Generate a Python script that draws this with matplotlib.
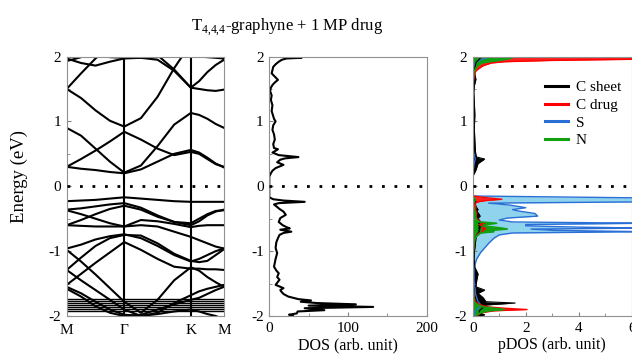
import numpy as np
import matplotlib
matplotlib.use("Agg")
import matplotlib.pyplot as plt
from matplotlib.ticker import MultipleLocator

plt.rcParams['font.family'] = ['Liberation Serif', 'DejaVu Serif']
plt.rcParams['mathtext.fontset'] = 'custom'
plt.rcParams['mathtext.rm'] = 'Liberation Serif'

# ---- band structure: energies at points along M - G - K - M ----
kpath = [0.0, 0.144, 0.289, 0.433, 0.577, 0.744, 0.911, 1.077, 1.244, 1.327, 1.410, 1.494, 1.577]
k_ticks = [0.0, 0.577, 1.244, 1.577]
k_labels = ['M', 'Γ', 'K', 'M']

bands = [
    # conduction
    [0.30, 0.27, 0.25, 0.22, 0.20, 0.26, 0.38, 0.50, 0.56, 0.52, 0.44, 0.35, 0.29],
    [0.30, 0.42, 0.55, 0.69, 0.84, 0.72, 0.58, 0.48, 0.53, 0.50, 0.42, 0.34, 0.30],
    [0.90, 0.78, 0.58, 0.38, 0.21, 0.32, 0.62, 0.95, 1.13, 1.10, 1.04, 0.96, 0.90],
    [1.50, 1.36, 1.17, 1.01, 0.92, 1.05, 1.38, 1.82, 2.20, 2.25, 2.25, 2.25, 2.25],
    [2.30, 2.20, 2.05, 1.99, 1.98, 1.98, 1.95, 1.78, 1.52, 1.62, 1.76, 1.87, 1.95],
    [2.40, 2.40, 2.30, 2.25, 2.20, 2.10, 2.02, 1.80, 1.52, 1.50, 1.48, 1.47, 1.49],
    [1.50, 1.74, 1.97, 2.15, 2.30, 2.40, 2.40, 2.30, 2.02, 2.00, 1.99, 1.98, 1.97],
    [1.93, 1.99, 2.08, 2.15, 2.20, 2.25, 2.30, 2.30, 2.30, 2.20, 2.10, 2.02, 1.96],
    [1.97, 1.90, 1.86, 1.92, 1.97, 1.98, 1.99, 2.05, 2.20, 2.30, 2.30, 2.30, 2.30],
    # valence
    [-0.23, -0.22, -0.21, -0.19, -0.17, -0.19, -0.21, -0.23, -0.24, -0.24, -0.24, -0.24, -0.24],
    [-0.36, -0.34, -0.31, -0.28, -0.26, -0.33, -0.45, -0.55, -0.60, -0.54, -0.45, -0.39, -0.36],
    [-0.60, -0.52, -0.43, -0.35, -0.30, -0.36, -0.47, -0.55, -0.57, -0.50, -0.43, -0.38, -0.37],
    [-0.37, -0.43, -0.50, -0.57, -0.62, -0.52, -0.54, -0.58, -0.63, -0.61, -0.60, -0.60, -0.60],
    [-0.60, -0.61, -0.62, -0.62, -0.62, -0.60, -0.62, -0.70, -0.78, -0.83, -0.88, -0.93, -0.96],
    [-0.96, -0.90, -0.82, -0.77, -0.74, -0.80, -0.92, -1.06, -1.16, -1.12, -1.06, -1.00, -0.96],
    [-1.29, -1.10, -0.92, -0.80, -0.75, -0.76, -0.88, -1.04, -1.15, -1.17, -1.15, -1.06, -0.97],
    [-1.52, -1.35, -1.18, -1.02, -0.86, -0.98, -1.12, -1.24, -1.27, -1.27, -1.28, -1.28, -1.29],
    [-0.98, -1.16, -1.36, -1.57, -1.78, -1.95, -1.75, -1.45, -1.25, -1.30, -1.40, -1.48, -1.55],
    [-1.29, -1.45, -1.60, -1.75, -1.90, -2.00, -1.95, -1.80, -1.68, -1.62, -1.58, -1.55, -1.52],
    [-1.55, -1.65, -1.78, -1.90, -1.98, -2.00, -1.97, -1.93, -1.90, -1.93, -1.97, -2.00, -2.05],
    [-1.58, -1.70, -1.85, -1.95, -2.00, -1.98, -1.90, -1.82, -1.75, -1.72, -1.66, -1.60, -1.55],
]
flat_levels = [-1.74, -1.77, -1.80, -1.83, -1.86, -1.89, -1.93]

# ---- total DOS ----
dos_e = [2.00, 1.98, 1.97, 1.95, 1.92, 1.88, 1.84, 1.79, 1.74, 1.69, 1.64, 1.60, 1.56, 1.52,
         1.47, 1.40, 1.33, 1.25, 1.16, 1.08, 1.04, 1.00, 0.94, 0.87, 0.80, 0.72, 0.65, 0.59,
         0.57, 0.54, 0.52, 0.48, 0.45, 0.43, 0.41, 0.37, 0.33, 0.30, 0.28, 0.24, 0.20, 0.15,
         0.10, -0.17, -0.20, -0.22, -0.24, -0.26, -0.28, -0.31, -0.35, -0.39, -0.44, -0.49,
         -0.55, -0.60, -0.63, -0.65, -0.67, -0.70, -0.72, -0.75, -0.80, -0.86, -0.95, -1.03,
         -1.12, -1.24, -1.30, -1.34, -1.40, -1.44, -1.52, -1.57, -1.60, -1.62, -1.66, -1.70,
         -1.74, -1.76, -1.78, -1.80, -1.82, -1.84, -1.86, -1.88, -1.91, -1.93, -1.96, -1.98, -2.00]
dos = [30, 41, 22, 16, 12, 8, 5, 4, 3, 7, 11, 7, 4, 2,
       1, 3, 2, 4, 3, 5, 6, 8, 5, 4, 6, 7, 5, 6,
       11, 7, 4, 12, 37, 20, 14, 10, 18, 12, 8, 4, 2, 0,
       0, 0, 5, 18, 45, 12, 6, 9, 13, 18, 21, 14,
       12, 17, 22, 26, 14, 28, 18, 13, 11, 9, 8, 10,
       8, 6, 9, 12, 10, 13, 8, 18, 14, 15, 18, 24,
       37, 53, 40, 60, 110, 50, 132, 45, 70, 36, 35, 25, 30]

# ---- projected DOS ----
pdos_e = [2.00, 1.98, 1.96, 1.94, 1.92, 1.90, 1.86, 1.82, 1.78, 1.72, 1.65, 1.55, 1.45, 1.30,
          1.10, 0.90, 0.70, 0.55, 0.48, 0.45, 0.42, 0.35, 0.25, 0.15, -0.15, -0.18, -0.20,
          -0.22, -0.24, -0.26, -0.29, -0.33, -0.36, -0.38, -0.42, -0.46, -0.49, -0.52, -0.55,
          -0.57, -0.59, -0.61, -0.63, -0.645, -0.66, -0.68, -0.70, -0.72, -0.75, -0.80, -0.88,
          -0.95, -1.02, -1.12, -1.25, -1.35, -1.45, -1.55, -1.60, -1.65, -1.72, -1.78, -1.80,
          -1.83, -1.86, -1.88, -1.90, -1.92, -1.95, -1.98, -2.00]
c_sheet = [0.3, 0.3, 0.25, 0.2, 0.15, 0.12, 0.1, 0.08, 0.07, 0.08, 0.12, 0.06, 0.04, 0.06,
           0.08, 0.06, 0.08, 0.1, 0.12, 0.15, 0.45, 0.2, 0.12, 0.0, 0.0, 0.04, 0.08,
           0.08, 0.12, 0.08, 0.1, 0.15, 0.2, 0.15, 0.22, 0.28, 0.2, 0.24, 0.3,
           0.22, 0.3, 0.22, 0.3, 0.22, 0.28, 0.22, 0.25, 0.2, 0.15, 0.12, 0.1,
           0.08, 0.06, 0.05, 0.08, 0.2, 0.15, 0.12, 0.45, 0.2, 0.4, 0.5, 1.6,
           0.5, 0.45, 0.35, 0.3, 0.25, 0.25, 0.45, 0.3]
c_drug = [0.8, 6.5, 6.5, 3.0, 1.2, 0.7, 0.4, 0.25, 0.12, 0.06, 0.03, 0.02, 0.01, 0.01,
          0.0, 0.0, 0.0, 0.0, 0.0, 0.01, 0.01, 0.0, 0.0, 0.0, 0.0, 0.6, 1.1,
          0.5, 0.2, 0.1, 0.1, 0.12, 0.1, 0.12, 0.15, 0.12, 0.15, 0.2, 0.3,
          0.45, 0.25, 0.4, 0.45, 0.35, 0.5, 0.35, 0.4, 0.25, 0.15, 0.1, 0.05,
          0.04, 0.02, 0.01, 0.01, 0.01, 0.01, 0.02, 0.03, 0.04, 0.06, 0.1, 0.15,
          0.3, 0.6, 1.2, 2.05, 0.8, 0.3, 0.2, 0.15]
s_atom = [0.3, 0.5, 0.4, 0.25, 0.15, 0.1, 0.06, 0.04, 0.03, 0.02, 0.01, 0.01, 0.0, 0.0,
          0.0, 0.0, 0.0, 0.02, 0.05, 0.08, 0.1, 0.05, 0.02, 0.0, 0.0, 6.5, 6.5,
          6.5, 6.5, 0.6, 1.4, 2.0, 1.5, 1.7, 2.35, 2.45, 1.3, 1.0, 1.5,
          6.5, 2.0, 2.0, 4.0, 6.5, 2.2, 3.0, 6.5, 1.5, 1.0, 0.8, 0.6,
          0.45, 0.3, 0.15, 0.05, 0.05, 0.05, 0.08, 0.1, 0.1, 0.15, 0.2, 0.25,
          0.3, 0.25, 0.2, 0.15, 0.1, 0.08, 0.05, 0.05]
n_atom = [1.0, 1.5, 1.3, 1.0, 0.6, 0.35, 0.2, 0.12, 0.06, 0.03, 0.02, 0.01, 0.0, 0.0,
          0.0, 0.0, 0.0, 0.0, 0.0, 0.02, 0.02, 0.01, 0.0, 0.0, 0.0, 0.05, 0.1,
          0.08, 0.05, 0.03, 0.03, 0.05, 0.05, 0.08, 0.1, 0.1, 0.12, 0.15, 0.25,
          0.9, 0.5, 0.4, 0.8, 1.1, 1.3, 0.6, 0.8, 0.3, 0.2, 0.08, 0.05,
          0.03, 0.02, 0.01, 0.01, 0.01, 0.01, 0.02, 0.03, 0.03, 0.04, 0.06, 0.1,
          0.2, 0.4, 0.8, 1.2, 0.6, 0.3, 0.15, 0.1]

fig = plt.figure(figsize=(6.32, 3.6), dpi=100)
ax1 = fig.add_axes([0.1055, 0.1222, 0.249, 0.7208])
ax2 = fig.add_axes([0.4261, 0.1222, 0.249, 0.7208])
ax3 = fig.add_axes([0.748, 0.1222, 0.2516, 0.7208])

for ax in (ax1, ax2, ax3):
    ax.set_ylim(-2, 2)
    ax.yaxis.set_major_locator(MultipleLocator(1))
    ax.yaxis.set_minor_locator(MultipleLocator(0.5))
    ax.tick_params(which='both', direction='in', labelsize=11, pad=4,
                   color='#808080')
    ax.tick_params(which='major', length=3)
    ax.tick_params(which='minor', length=2)
    for s in ax.spines.values():
        s.set_color('#909090')
        s.set_linewidth(0.8)
    ax.set_yticks([-2, -1, 0, 1, 2])
    ax.set_yticklabels(['-2', '-1', '0', '1', '2'])
    ax.axhline(0, color='black', ls=(0, (1, 3.5)), lw=2, zorder=5)

# band structure
for b in bands:
    ax1.plot(kpath, b, color='black', lw=1.5)
for lev in flat_levels:
    ax1.axhline(lev, color='black', lw=1.0)
for kt in k_ticks[1:3]:
    ax1.axvline(kt, color='black', lw=1.5)
ax1.set_xlim(k_ticks[0], k_ticks[-1])
ax1.set_xticks(k_ticks)
ax1.set_xticklabels(k_labels)
ax1.tick_params(axis='x', length=0, pad=6)

# total DOS
ax2.plot(dos, dos_e, color='black', lw=1.5)
ax2.set_xlim(0, 200)
ax2.set_xticks([0, 100, 200])
ax2.xaxis.set_minor_locator(MultipleLocator(50))
ax2.set_xlabel('DOS (arb. unit)', fontsize=11.5, labelpad=2)

# projected DOS
ax3.fill_betweenx(pdos_e, 0, s_atom, color='#8fd3ec', lw=0)
ax3.plot(s_atom, pdos_e, color='#2a6fd6', lw=1.0, label='S')
ax3.fill_betweenx(pdos_e, 0, c_sheet, color='black', lw=0)
ax3.plot(c_sheet, pdos_e, color='black', lw=0.8, label='C sheet')
ax3.fill_betweenx(pdos_e, 0, c_drug, color='#ff2020', lw=0)
ax3.plot(c_drug, pdos_e, color='#ff0000', lw=1.0, label='C drug')
ax3.fill_betweenx(pdos_e, 0, n_atom, color='#10a010', lw=0)
ax3.plot(n_atom, pdos_e, color='#10a010', lw=1.2, label='N')
ax3.set_xlim(0, 6)
ax3.set_xticks([0, 2, 4, 6])
ax3.xaxis.set_minor_locator(MultipleLocator(1))
ax3.set_xlabel('pDOS (arb. unit)', fontsize=11.5, labelpad=2)

h, l = ax3.get_legend_handles_labels()
order = [l.index(n) for n in ['C sheet', 'C drug', 'S', 'N']]
ax3.legend([h[i] for i in order], [l[i] for i in order], loc='upper right',
           bbox_to_anchor=(0.97, 0.93), frameon=False, fontsize=11,
           handlelength=1.5, handletextpad=0.5, labelspacing=0.25,
           borderaxespad=0)
for line in ax3.get_legend().get_lines():
    line.set_linewidth(2.2)

fig.text(0.454, 0.925, r'T$_{\mathrm{4{,}4{,}4}}$-graphyne + 1 MP drug', ha='center',
         va='center', fontsize=12)
fig.text(0.03, 0.51, 'Energy (eV)', rotation=90, ha='center', va='center',
         fontsize=13.5)

fig.savefig('out.png', dpi=100)
